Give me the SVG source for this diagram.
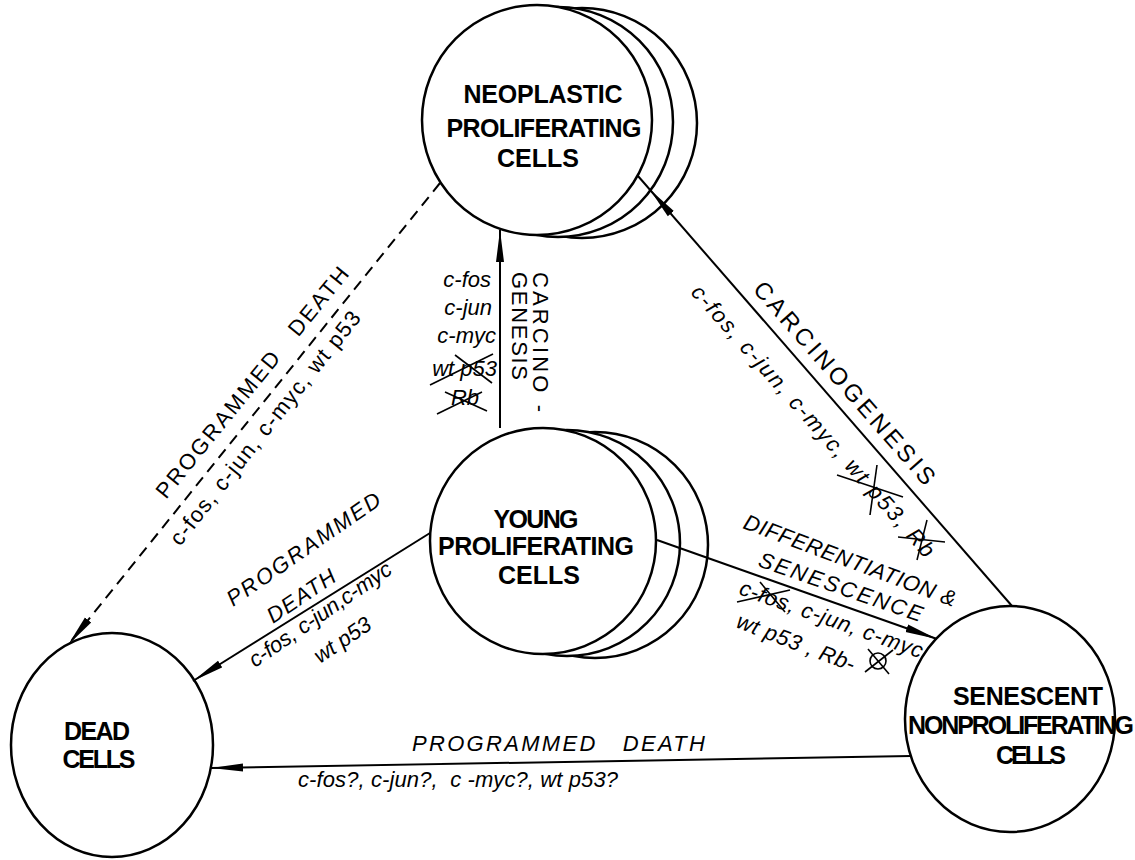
<svg xmlns="http://www.w3.org/2000/svg" width="1135" height="860" viewBox="0 0 1135 860">
<defs>
<marker id="arr" markerUnits="userSpaceOnUse" markerWidth="32" markerHeight="10" viewBox="0 0 32 10" refX="32" refY="5" orient="auto"><path d="M0,1 L32,5 L0,9 z" fill="#000"/></marker>
<marker id="arrOff" markerUnits="userSpaceOnUse" markerWidth="50" markerHeight="10" viewBox="0 0 50 10" refX="50" refY="5" orient="auto"><path d="M0,1 L32,5 L0,9 z" fill="#000"/></marker>
</defs>
<style>
.ring{fill:#fff;stroke:#000;stroke-width:2.5}
.lbl{font-family:"Liberation Sans",Arial,sans-serif;font-weight:bold;font-size:25px;text-anchor:middle;fill:#000}
.it{font-family:"Liberation Sans",Arial,sans-serif;font-style:italic;font-size:22px;fill:#000}
.rg{font-family:"Liberation Sans",Arial,sans-serif;font-size:22px;fill:#000}
.edge{stroke:#000;stroke-width:2;fill:none}
.dash{stroke-dasharray:11 7}
.strike{stroke:#000;stroke-width:1.6;fill:none}
</style>
<rect width="1135" height="860" fill="#fff"/>

<g id="node-neoplastic">
<circle class="ring" cx="582" cy="123" r="115"/>
<circle class="ring" cx="558" cy="122" r="115"/>
<circle class="ring" cx="537" cy="120" r="115"/>
<text class="lbl" x="543" y="103" textLength="159">NEOPLASTIC</text>
<text class="lbl" x="544" y="137" textLength="195">PROLIFERATING</text>
<text class="lbl" x="538" y="167" textLength="82">CELLS</text>
</g>

<g id="node-young">
<circle class="ring" cx="595" cy="545" r="113"/>
<circle class="ring" cx="567" cy="543" r="113"/>
<circle class="ring" cx="543" cy="541" r="113"/>
<text class="lbl" x="536" y="528" textLength="85">YOUNG</text>
<text class="lbl" x="536" y="555" textLength="196">PROLIFERATING</text>
<text class="lbl" x="539" y="584" textLength="82">CELLS</text>
</g>

<g id="node-dead">
<ellipse class="ring" cx="112" cy="745" rx="101" ry="112"/>
<text class="lbl" x="97" y="740" textLength="66">DEAD</text>
<text class="lbl" x="99" y="768" textLength="73">CELLS</text>
</g>

<g id="node-senescent">
<ellipse class="ring" cx="1010" cy="719" rx="105" ry="113"/>
<text class="lbl" x="1028" y="705" textLength="150">SENESCENT</text>
<text class="lbl" x="1021" y="734" textLength="226">NONPROLIFERATING</text>
<text class="lbl" x="1031" y="764" textLength="70">CELLS</text>
</g>

<g id="connectors">
<line class="edge" x1="500" y1="428" x2="500" y2="230" marker-end="url(#arr)"/>
<line class="edge dash" x1="440" y1="183" x2="68" y2="645" marker-end="url(#arr)"/>
<line class="edge" x1="430" y1="533" x2="193" y2="681" marker-end="url(#arr)"/>
<line class="edge" x1="657" y1="540" x2="937" y2="639" marker-end="url(#arr)"/>
<line class="edge" x1="1012" y1="606" x2="638" y2="176" marker-end="url(#arrOff)"/>
<line class="edge" x1="911" y1="756" x2="211" y2="768" marker-end="url(#arr)"/>
</g>

<g id="edge-labels">
<text class="it" x="491" y="287" text-anchor="end">c-fos</text>
<text class="it" x="492" y="315" text-anchor="end">c-jun</text>
<text class="it" x="496" y="343" text-anchor="end">c-myc</text>
<text class="it" x="497" y="376" text-anchor="end">wt p53</text>
<text class="it" x="479" y="405" text-anchor="end">Rb</text>
<line class="strike" x1="430" y1="385" x2="493" y2="354"/>
<line class="strike" x1="455" y1="355" x2="492" y2="383"/>
<line class="strike" x1="437" y1="414" x2="482" y2="392"/>
<line class="strike" x1="445" y1="392" x2="487" y2="411"/>
<text class="rg" transform="translate(533,272) rotate(90)" textLength="140" xml:space="preserve">CARCINO -</text>
<text class="rg" transform="translate(512,272) rotate(90)" textLength="108">GENESIS</text>

<text class="rg" transform="translate(166,500) rotate(-50.8)" textLength="291" xml:space="preserve">PROGRAMMED   DEATH</text>
<text class="rg" transform="translate(180,547) rotate(-51.5)" textLength="292">c-fos, c-jun, c-myc, wt p53</text>

<text class="it" transform="translate(233,607) rotate(-34.7)" textLength="182">PROGRAMMED</text>
<text class="it" transform="translate(273,624) rotate(-34)" textLength="78">DEATH</text>
<text class="it" transform="translate(255,668) rotate(-34.5)" textLength="168">c-fos, c-jun,c-myc</text>
<text class="it" transform="translate(320,664) rotate(-34)" textLength="64">wt p53</text>

<text class="it" transform="translate(742,528) rotate(20.5)" textLength="225" xml:space="preserve">DIFFERENTIATION &amp;</text>
<text class="it" transform="translate(757,566) rotate(19)" textLength="172">SENESCENCE</text>
<text class="it" transform="translate(738,594) rotate(19.5)" textLength="193">c-fos, c-jun, c-myc</text>
<text class="it" transform="translate(735,627) rotate(21)" textLength="125" xml:space="preserve">wt p53 , Rb-</text>
<line class="strike" x1="737" y1="602" x2="790" y2="590"/>
<line class="strike" x1="760" y1="582" x2="785" y2="612"/>
<circle class="strike" cx="878" cy="661" r="8"/>
<line class="strike" x1="865" y1="672" x2="893" y2="650"/>
<line class="strike" x1="868" y1="649" x2="889" y2="674"/>

<text class="rg" transform="translate(752,290) rotate(48.7)" textLength="262" style="font-size:24px">CARCINOGENESIS</text>
<text class="it" transform="translate(690,293) rotate(48.5)" textLength="355">c-fos, c-jun, c-myc, wt p53, Rb</text>
<line class="strike" x1="837" y1="475" x2="903" y2="497"/>
<line class="strike" x1="877" y1="465" x2="870" y2="515"/>
<line class="strike" x1="898" y1="537" x2="945" y2="542"/>
<line class="strike" x1="927" y1="520" x2="917" y2="560"/>

<text class="it" x="412" y="751" textLength="293" xml:space="preserve">PROGRAMMED   DEATH</text>
<text class="it" x="298" y="787" textLength="320" xml:space="preserve">c-fos?, c-jun?,  c -myc?, wt p53?</text>
</g>
</svg>
